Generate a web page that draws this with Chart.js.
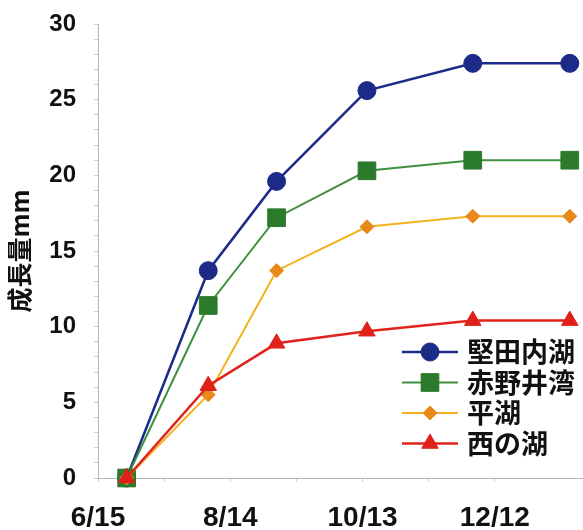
<!DOCTYPE html>
<html lang="ja">
<head>
<meta charset="utf-8">
<title>成長量</title>
<script src="https://cdn.jsdelivr.net/npm/chart.js@4.4.1/dist/chart.umd.min.js"></script>
<style>
  html, body { margin: 0; padding: 0; background: #fff; }
  canvas { display: block; }
</style>
</head>
<body>
<canvas id="growth" width="583" height="530"></canvas>
<script>
/* ─── Data ─────────────────────────────────────────────── */
// x = days since 6/15
const sampleDays = [13, 50, 81, 122, 170, 214];
const tickDays   = [0, 60, 120, 180];
const tickLabels = ['6/15', '8/14', '10/13', '12/12'];

const seriesNames = ['堅田内湖', '赤野井湾', '平湖', '西の湖'];
const katataNaiko = [0, 13.7, 19.6, 25.6, 27.4, 27.4];
const akanoiWan   = [0, 11.4, 17.2, 20.3, 21.0, 21.0];
const hiraKo      = [0, 5.5, 13.7, 16.6, 17.3, 17.3];
const nishinoKo   = [0, 6.1, 8.9, 9.7, 10.4, 10.4];

const toPoints = vals => vals.map((v, i) => ({ x: sampleDays[i], y: v }));

/* ─── Plot runs to the right edge of the canvas ────────── */
const fullWidth = {
  id: 'fullWidth',
  afterLayout(chart) {
    const x = chart.scales.x;
    chart.chartArea.right = chart.width;
    chart.chartArea.width = chart.width - chart.chartArea.left;
    x.right = chart.width;
    x.width = x.right - x.left;
    x.configure();
  }
};

/* ─── Legend: line + marker, drawn inside the plot ─────── */
const lineLegend = {
  id: 'lineLegend',
  afterDatasetsDraw(chart, args, opts) {
    const ctx = chart.ctx;
    ctx.save();
    ctx.font = opts.font;
    ctx.textBaseline = 'middle';
    ctx.textAlign = 'left';
    chart.data.datasets.forEach((ds, i) => {
      const y = opts.top + i * opts.rowHeight;
      ctx.strokeStyle = ds.borderColor;
      ctx.lineWidth   = ds.borderWidth;
      ctx.beginPath();
      ctx.moveTo(opts.x, y);
      ctx.lineTo(opts.x + opts.lineLength, y);
      ctx.stroke();

      ctx.fillStyle   = ds.pointBackgroundColor;
      ctx.strokeStyle = ds.pointBorderColor;
      ctx.lineWidth   = ds.pointBorderWidth;
      Chart.helpers.drawPoint(ctx, {
        pointStyle: ds.pointStyle,
        radius: ds.pointRadius,
        borderWidth: ds.pointBorderWidth,
        rotation: 0
      }, opts.x + opts.lineLength / 2, y);

      ctx.fillStyle = '#111';
      ctx.fillText(ds.label, opts.x + opts.lineLength + opts.gap, y);
    });
    ctx.restore();
  }
};

function series(label, vals, line, mark, style, radius, width, order) {
  return {
    label,
    data: toPoints(vals),
    borderColor: line,
    borderWidth: width,
    pointStyle: style,
    pointRadius: radius,
    pointHoverRadius: radius,
    pointBackgroundColor: mark,
    pointBorderColor: mark,
    pointBorderWidth: 1,
    tension: 0,
    clip: false,
    order
  };
}

new Chart(document.getElementById('growth'), {
  type: 'line',
  data: {
    datasets: [
      series(seriesNames[0], katataNaiko, '#1c2a88', '#1c2a88', 'circle',   9,    2.5, 3),
      series(seriesNames[1], akanoiWan,   '#3f8f3f', '#2c7a2c', 'rect',     12.5, 2,   2),
      series(seriesNames[2], hiraKo,      '#f4b11e', '#e8891a', 'rectRot',  7,    2,   1),
      series(seriesNames[3], nishinoKo,   '#e2231c', '#e0201a', 'triangle', 9.5,  2.5, 0)
    ]
  },
  plugins: [fullWidth, lineLegend],
  options: {
    responsive: false,
    animation: false,
    layout: { padding: 0 },
    plugins: {
      legend:  { display: false },
      tooltip: { enabled: false },
      lineLegend: {
        x: 402, top: 352, rowHeight: 30.5, lineLength: 56, gap: 9,
        font: "bold 27px 'Noto Sans CJK JP', sans-serif"
      }
    },
    scales: {
      x: {
        type: 'linear',
        min: 0,
        max: 220,
        afterBuildTicks: s => { s.ticks = s.ticks.filter(t => t.value % 30 === 0); },
        afterFit: s => { s.height = 52; s.paddingLeft = 0; s.paddingRight = 0; },
        ticks: {
          stepSize: 30,
          autoSkip: false,
          maxRotation: 0,
          padding: 19,
          color: '#111',
          font: { family: "'Liberation Sans', Arial, sans-serif", size: 28, weight: 'bold' },
          callback: v => {
            const i = tickDays.indexOf(v);
            return i >= 0 ? tickLabels[i] : '';
          }
        },
        grid:   { drawOnChartArea: false, tickLength: 4, color: '#cfcfcf' },
        border: { color: '#b5b5b5', dash: [2, 2] }
      },
      y: {
        min: 0,
        max: 30,
        afterFit: s => { s.width = 98; s.paddingTop = 24; s.paddingBottom = 0; },
        ticks: {
          stepSize: 1,
          autoSkip: false,
          padding: 18,
          color: '#111',
          font: { family: "'Liberation Sans', Arial, sans-serif", size: 24, weight: 'bold' },
          callback: v => (v % 5 === 0 ? v : '')
        },
        grid:   { drawOnChartArea: false, tickLength: 4, color: '#cfcfcf' },
        border: { color: '#b5b5b5', dash: [2, 2] },
        title: {
          display: true,
          text: '成長量mm',
          color: '#111',
          padding: { top: 4, bottom: 0 },
          font: { family: "'Noto Sans CJK JP', sans-serif", size: 25, weight: 'bold' }
        }
      }
    }
  }
});
</script>
</body>
</html>
